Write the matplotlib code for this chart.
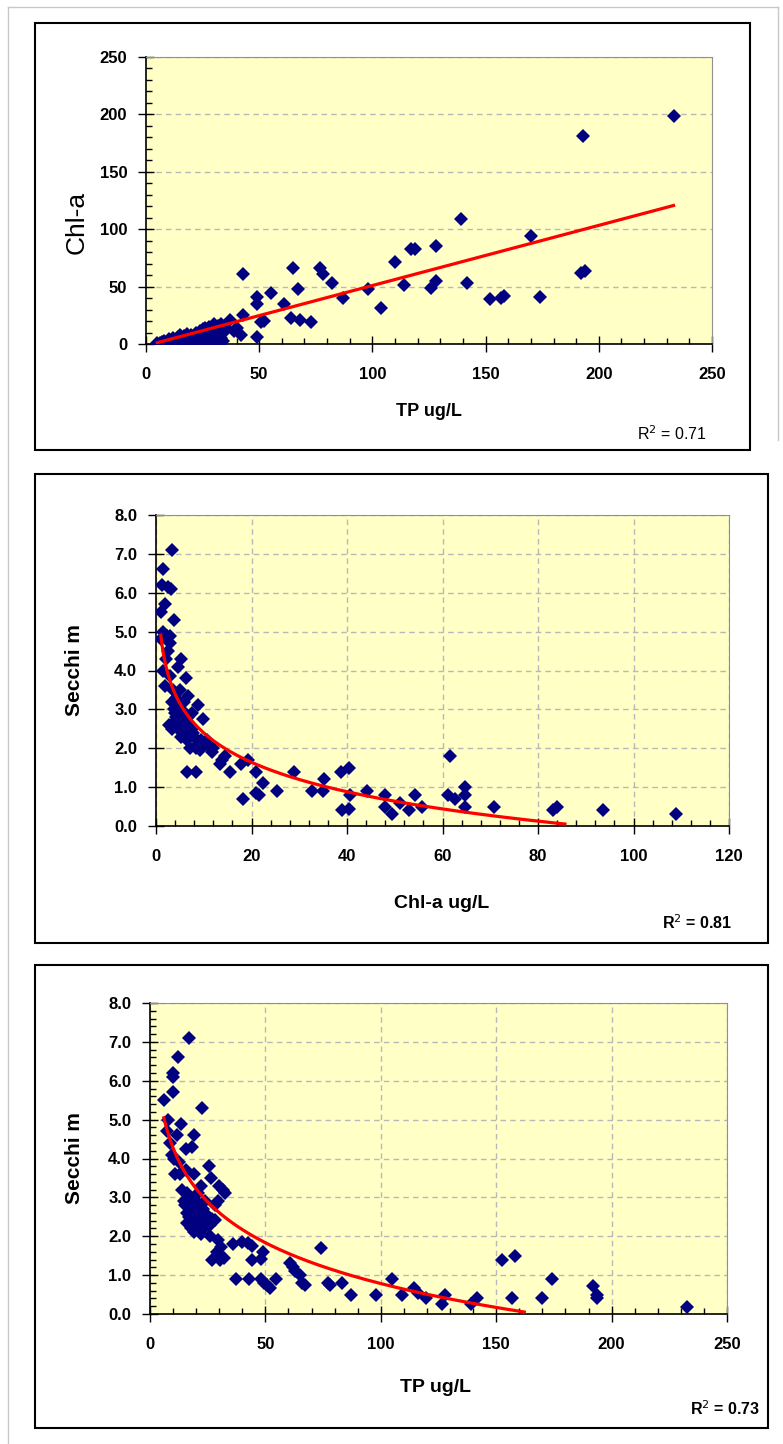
import numpy as np
import matplotlib
matplotlib.use("Agg")
import matplotlib.pyplot as plt
from matplotlib.ticker import MultipleLocator, FormatStrFormatter, NullLocator
from matplotlib.patches import Rectangle
from matplotlib.lines import Line2D

plt.rcParams['font.family'] = ['Liberation Sans', 'DejaVu Sans']

# --- Chl-a vs TP ---
tp_a = [5, 6, 7, 7, 8, 9, 10, 10, 11, 12, 12, 13, 14, 15, 15, 16, 17, 18, 18, 19,
        20, 20, 21, 22, 22, 23, 24, 24, 25, 25, 26, 26, 27, 27, 28, 28, 29, 29, 30, 30,
        31, 31, 32, 32, 33, 33, 34, 34, 35, 26, 30, 33, 35, 24, 28,
        37, 39, 40, 42, 43, 43, 49, 49, 49, 51, 52, 55, 61, 64, 65, 67, 68, 73, 77, 78,
        82, 87, 98, 104, 110, 114, 117, 119, 126, 128, 128, 139, 142, 152, 157, 158,
        170, 174, 192, 194, 193, 233]
chl_a = [1, 0.5, 2, 0.5, 3, 1, 4, 1.5, 2, 5, 1, 3, 6, 2, 8, 4, 7, 3, 9, 5,
         1, 8, 6, 3, 10, 8, 2, 11, 5, 13, 4, 9, 12, 7, 2, 15, 6, 10, 17, 3,
         13, 1, 16, 8, 5, 12, 3, 10, 15, 14, 12, 17, 13, 9, 11,
         21, 11, 14, 8, 25, 61, 41, 35, 6, 19, 20, 44, 35, 23, 66, 48, 21, 19, 66, 61,
         53, 40, 48, 31, 71, 51, 83, 83, 49, 55, 85, 109, 53, 39, 40, 42,
         94, 41, 62, 64, 181, 199]

# --- Secchi vs Chl-a ---
chl_b = [3.4, 1.4, 1.3, 3.1, 2.6, 1.9, 1.0, 3.8, 1.5, 2.2, 2.9, 1.0, 2.0, 5.3, 4.6,
         1.5, 6.3, 1.9, 2.9, 3.6, 6.8, 8.8, 9.8, 3.4, 4.9, 3.9, 6.0, 4.5, 5.5, 2.8,
         4.4, 6.0, 5.5, 6.5, 4.0, 7.0, 8.4, 8.7, 9.2, 10.6, 11.2, 11.7, 13.3, 13.8,
         14.4, 15.6, 6.5, 8.3, 17.7, 19.3, 18.2, 20.9, 20.9, 21.5, 22.4, 25.4, 28.8,
         32.6, 35.0, 35.2, 38.7, 40.4, 38.9, 40.5, 40.6, 44.1, 48.0, 48.0, 49.4, 51.2,
         53.0, 54.2, 55.8, 61.6, 61.2, 62.6, 64.7, 64.7, 64.7, 70.8, 83.2, 84.0, 93.7,
         108.9, 2.5, 3.0, 5.0, 7.5, 5.2, 7.2, 3.3, 4.2,
         4.2, 5.8, 6.2, 4.8, 7.8, 3.8, 5.0, 6.8, 7.5, 8.0, 9.5, 12.0]
secchi_b = [7.1, 6.6, 6.2, 6.1, 6.15, 5.7, 5.5, 5.3, 5.0, 4.9, 4.7, 4.8, 4.3, 4.3, 4.1,
            4.0, 3.8, 3.6, 3.85, 3.5, 3.35, 3.1, 2.75, 3.2, 3.0, 2.9, 2.9, 3.1, 2.8, 2.6,
            2.6, 2.5, 2.4, 2.2, 2.7, 2.6, 2.0, 2.1, 1.95, 2.2, 2.05, 1.9, 1.6, 1.7,
            1.8, 1.4, 1.4, 1.4, 1.6, 1.7, 0.7, 1.4, 0.85, 0.8, 1.1, 0.9, 1.4,
            0.9, 0.9, 1.2, 1.4, 1.5, 0.4, 0.45, 0.8, 0.9, 0.8, 0.5, 0.3, 0.6,
            0.4, 0.8, 0.5, 1.8, 0.8, 0.7, 1.0, 0.8, 0.5, 0.5, 0.4, 0.5, 0.4,
            0.3, 4.5, 4.9, 3.5, 2.9, 2.3, 2.0, 2.5, 3.3,
            2.8, 3.2, 2.7, 2.5, 2.4, 3.0, 2.9, 2.8, 2.5, 2.3, 2.2, 2.0]

# --- Secchi vs TP ---
tp_c = [17, 12.3, 10, 10, 10, 6, 22.4, 8, 13.6, 7.4, 11.5, 19, 8.8, 18.4, 15.5, 9.6,
        10.3, 12.5, 25.6, 11, 13, 19, 26.3, 15.4, 14, 22, 30, 31.5, 32.5, 16.2, 14.7,
        19.1, 29.4, 15, 17.5, 20.5, 23, 28, 16, 18, 21, 24, 27, 16.2, 17.6, 20, 25, 28,
        22, 23.5, 26, 29.4, 30.9, 29, 30, 27, 30.3, 32, 36, 39.7, 42.6, 44, 37.2, 43,
        44, 49, 48.3, 48.3, 49.5, 50.9, 52, 54.5, 60.5, 62, 63, 65, 66, 67, 74, 77, 78,
        83, 87, 98, 105, 109, 114.5, 116, 119.5, 126.6, 128, 139, 141.8, 152.5, 158,
        156.7, 170, 174, 191.8, 193.5, 193.5, 232.6,
        18, 20, 22, 24, 17, 21, 26, 19]
secchi_c = [7.1, 6.6, 6.2, 6.1, 5.7, 5.5, 5.3, 5.0, 4.9, 4.7, 4.6, 4.6, 4.4, 4.3, 4.25, 4.1,
            4.0, 3.9, 3.8, 3.6, 3.6, 3.6, 3.5, 3.7, 3.2, 3.3, 3.3, 3.2, 3.1, 3.1, 2.9,
            2.95, 2.9, 2.8, 2.7, 2.8, 2.7, 2.8, 2.6, 2.5, 2.5, 2.6, 2.45, 2.33, 2.2, 2.3, 2.29, 2.42,
            2.07, 2.2, 2.0, 1.9, 1.73, 1.6, 1.5, 1.4, 1.4, 1.45, 1.8, 1.85, 1.82, 1.75, 0.9, 0.9,
            1.4, 1.6, 1.41, 0.9, 0.8, 0.75, 0.68, 0.9, 1.3, 1.2, 1.1, 1.0, 0.8, 0.75, 1.7, 0.8, 0.75,
            0.8, 0.5, 0.5, 0.9, 0.5, 0.66, 0.55, 0.4, 0.26, 0.49, 0.27, 0.4, 1.4, 1.5,
            0.4, 0.4, 0.9, 0.72, 0.49, 0.4, 0.17,
            2.9, 2.6, 2.4, 2.9, 2.5, 3.1, 2.3, 2.1]

# trendline coefficients (Excel trendlines)
trend_a = [0.524, -1.46]      # linear: y = m*x + b
trend_b = [-1.092, 4.91]      # log:    y = m*ln(x) + b
trend_c = [-1.515, 7.76]      # log:    y = m*ln(x) + b
r2_labels = ['0.71', '0.81', '0.73']

W, H = 783, 1444
YELLOW = '#FFFFC6'
NAVY = '#000080'


def fig_box(x0, y0, x1, y1):
    # pixel rectangle (top-left origin) -> figure fraction [l, b, w, h]
    return [x0 / W, 1 - y1 / H, (x1 - x0) / W, (y1 - y0) / H]


def ftext(x, y, s, **kw):
    fig.text(x / W, 1 - y / H, s, ha='center', va='center', **kw)


def style_axes(ax, xmax, ymax, xmaj, xmin, ymaj, ymin, yfmt, vgrid):
    ax.set_facecolor(YELLOW)
    ax.set_xlim(0, xmax)
    ax.set_ylim(0, ymax)
    ax.xaxis.set_major_locator(MultipleLocator(xmaj))
    ax.yaxis.set_major_locator(MultipleLocator(ymaj))
    ax.xaxis.set_minor_locator(MultipleLocator(xmin) if xmin else NullLocator())
    ax.yaxis.set_minor_locator(MultipleLocator(ymin) if ymin else NullLocator())
    ax.yaxis.set_major_formatter(FormatStrFormatter(yfmt))
    ax.tick_params(which='major', direction='inout', length=11, width=1,
                   labelsize=12, color='black')
    ax.tick_params(axis='x', which='major', pad=11)
    ax.tick_params(axis='y', which='major', pad=8)
    ax.tick_params(which='minor', direction='in', length=4, width=1)
    for lab in ax.get_xticklabels() + ax.get_yticklabels():
        lab.set_fontweight('bold')
    for side in ('top', 'right'):
        ax.spines[side].set_color('#909090')
    for side in ('left', 'bottom'):
        ax.spines[side].set_color('black')
        ax.spines[side].set_linewidth(1.2)
    ax.grid(axis='y', color='#B8B8B8', linestyle=(0, (4, 3)), linewidth=1)
    if vgrid:
        ax.grid(axis='x', color='#B8B8B8', linestyle=(0, (4, 3)), linewidth=1)
    ax.set_axisbelow(True)


def log_trend(ax, x, coef):
    xs = np.linspace(x.min(), x.max(), 400)
    ys = coef[0] * np.log(xs) + coef[1]
    keep = ys >= 0.05
    ax.plot(xs[keep], ys[keep], color='red', lw=2.3, zorder=4)


fig = plt.figure(figsize=(W / 100, H / 100), dpi=100)

# outer light frame and panel boxes
fig.add_artist(Line2D([8 / W, 8 / W], [0, 1 - 7 / H], color='#C8C8C8', lw=1))
fig.add_artist(Line2D([8 / W, 778 / W], [1 - 7 / H, 1 - 7 / H], color='#C8C8C8', lw=1))
fig.add_artist(Line2D([778 / W, 778 / W], [1 - 7 / H, 1 - 440 / H], color='#C8C8C8', lw=1))
for (x0, y0, x1, y1) in [(35, 23, 750, 450), (35, 474, 768, 943), (35, 965, 768, 1428)]:
    l, b, w, h = fig_box(x0, y0, x1, y1)
    fig.add_artist(Rectangle((l, b), w, h, transform=fig.transFigure,
                             fill=False, ec='black', lw=1.5))

# panel 1: Chl-a vs TP, linear trend
ax1 = fig.add_axes(fig_box(146, 57, 712, 344))
style_axes(ax1, 250, 250, 50, 10, 50, 10, '%d', False)
xa = np.array(tp_a, float)
ya = np.array(chl_a, float)
ax1.plot(xa, ya, 'D', color=NAVY, ms=7.5, mew=0, zorder=3)
xs = np.array([xa.min(), xa.max()])
ax1.plot(xs, trend_a[0] * xs + trend_a[1], color='red', lw=2.3, zorder=4)
ftext(77, 222, 'Chl-a', rotation=90, fontsize=19)
ftext(429, 411, 'TP ug/L', fontsize=13, fontweight='bold')
ftext(672, 434, 'R$^2$ = ' + r2_labels[0], fontsize=11.5)

# panel 2: Secchi vs Chl-a, logarithmic trend
ax2 = fig.add_axes(fig_box(156, 515, 729, 826))
style_axes(ax2, 120, 8, 20, 4, 1, None, '%.1f', True)
xb = np.array(chl_b, float)
yb = np.array(secchi_b, float)
ax2.plot(xb, yb, 'D', color=NAVY, ms=7.5, mew=0, zorder=3)
log_trend(ax2, xb, trend_b)
ftext(75, 670, 'Secchi m', rotation=90, fontsize=15, fontweight='bold')
ftext(442, 903, 'Chl-a ug/L', fontsize=14, fontweight='bold')
ftext(697, 923, 'R$^2$ = ' + r2_labels[1], fontsize=11.5, fontweight='bold')

# panel 3: Secchi vs TP, logarithmic trend
ax3 = fig.add_axes(fig_box(150, 1003, 727, 1314))
style_axes(ax3, 250, 8, 50, 10, 1, 0.2, '%.1f', True)
xc = np.array(tp_c, float)
yc = np.array(secchi_c, float)
ax3.plot(xc, yc, 'D', color=NAVY, ms=7.5, mew=0, zorder=3)
log_trend(ax3, xc, trend_c)
ftext(75, 1158, 'Secchi m', rotation=90, fontsize=15, fontweight='bold')
ftext(436, 1387, 'TP ug/L', fontsize=14, fontweight='bold')
ftext(725, 1409, 'R$^2$ = ' + r2_labels[2], fontsize=11.5, fontweight='bold')

fig.savefig('out.png', dpi=100)
